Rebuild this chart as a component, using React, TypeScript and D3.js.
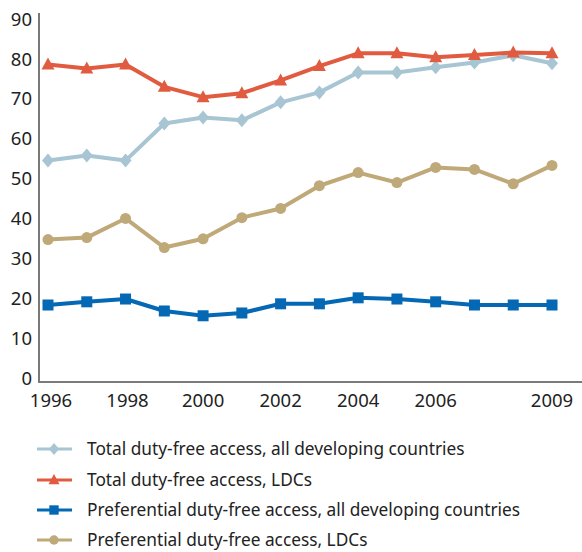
import React from "react";
import * as d3 from "d3";

const years = [1996, 1997, 1998, 1999, 2000, 2001, 2002, 2003, 2004, 2005, 2006, 2007, 2008, 2009];
const totalAllDev = [54.5, 55.8, 54.5, 63.8, 65.3, 64.6, 69.1, 71.6, 76.6, 76.6, 77.9, 79.1, 80.9, 78.9];
const totalLDC = [78.6, 77.6, 78.6, 73.0, 70.4, 71.4, 74.6, 78.2, 81.4, 81.4, 80.4, 81.0, 81.6, 81.4];
const prefAllDev = [18.3, 19.1, 19.8, 16.8, 15.6, 16.3, 18.6, 18.6, 20.1, 19.8, 19.1, 18.3, 18.3, 18.3];
const prefLDC = [34.7, 35.2, 40.0, 32.7, 34.9, 40.2, 42.5, 48.2, 51.5, 49.0, 52.8, 52.3, 48.7, 53.3];
const yTicks = [0, 10, 20, 30, 40, 50, 60, 70, 80, 90];
const xTickYears = [1996, 1998, 2000, 2002, 2004, 2006, 2009];

const seriesNames = [
  "Total duty-free access, all developing countries",
  "Total duty-free access, LDCs",
  "Preferential duty-free access, all developing countries",
  "Preferential duty-free access, LDCs",
];
const seriesValues = [totalAllDev, totalLDC, prefAllDev, prefLDC];
const seriesColors = ["#a8c5d3", "#e05b40", "#0468b4", "#bfa979"];
const seriesMarkers = ["diamond", "triangle", "square", "circle"];

const FONT = "'Noto Sans', sans-serif";

function Marker({ type, x, y, color, scale = 1 }: { type: string; x: number; y: number; color: string; scale?: number }) {
  if (type === "diamond") {
    const h = 7 * scale, w = 6 * scale;
    return <path d={`M${x},${y - h}L${x + w},${y}L${x},${y + h}L${x - w},${y}Z`} fill={color} />;
  }
  if (type === "triangle") {
    const h = 7 * scale, w = 6.5 * scale;
    return <path d={`M${x},${y - h}L${x + w},${y + 5 * scale}L${x - w},${y + 5 * scale}Z`} fill={color} />;
  }
  if (type === "square") {
    const s = 5.5 * scale;
    return <rect x={x - s} y={y - s} width={2 * s} height={2 * s} fill={color} />;
  }
  return <circle cx={x} cy={y} r={5.5 * scale} fill={color} />;
}

export default function App() {
  const width = 582, height = 552;
  const x = d3.scaleLinear().domain([1996, 2009]).range([48, 552]);
  const y = d3.scaleLinear().domain([0, 90]).range([378, 19]);
  const line = d3
    .line<number>()
    .x((_, i) => x(years[i]))
    .y((d) => y(d));

  const legendY = [449, 480, 510, 540];

  return (
    <svg width={width} height={height} style={{ position: "absolute", left: 0, top: 0 }}>
      <rect width={width} height={height} fill="#fff" />
      <line x1={39} x2={39} y1={13} y2={383} stroke="#7a7a7a" strokeWidth={2} />
      <line x1={38} x2={582} y1={382} y2={382} stroke="#7a7a7a" strokeWidth={2} />
      {yTicks.map((t) => (
        <text key={t} x={32} y={y(t)} dy="0.36em" textAnchor="end" fontFamily={FONT} fontSize={18.5} fill="#222">
          {t}
        </text>
      ))}
      {xTickYears.map((t) => (
        <text key={t} x={x(t) + (t === 1996 ? 3 : t === 1998 ? 2 : 0)} y={407} textAnchor="middle" fontFamily={FONT} fontSize={18.5} fill="#222">
          {t}
        </text>
      ))}
      {seriesValues.map((vals, si) => (
        <g key={si}>
          <path d={line(vals) || ""} fill="none" stroke={seriesColors[si]} strokeWidth={4} strokeLinejoin="round" />
          {vals.map((v, i) => (
            <Marker key={i} type={seriesMarkers[si]} x={x(years[i])} y={y(v)} color={seriesColors[si]} />
          ))}
        </g>
      ))}
      {seriesNames.map((n, i) => (
        <g key={n}>
          <line x1={37} x2={72} y1={legendY[i]} y2={legendY[i]} stroke={seriesColors[i]} strokeWidth={3} />
          <Marker type={seriesMarkers[i]} x={54} y={legendY[i]} color={seriesColors[i]} scale={0.85} />
          <text x={87} y={legendY[i]} dy="0.36em" fontFamily={FONT} fontSize={17.3} fill="#222">
            {n}
          </text>
        </g>
      ))}
    </svg>
  );
}
